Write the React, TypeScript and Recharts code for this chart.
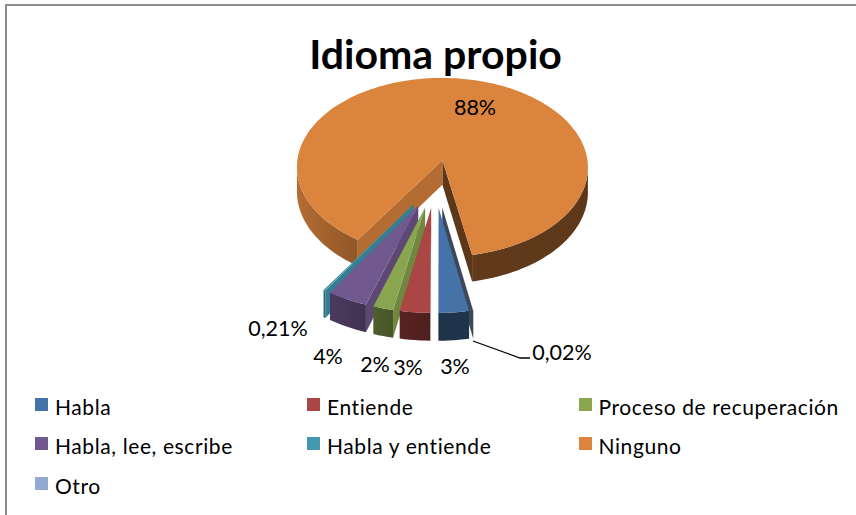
import { PieChart, Pie, Legend } from 'recharts';

const categories = [
  'Habla',
  'Entiende',
  'Proceso de recuperación',
  'Habla, lee, escribe',
  'Habla y entiende',
  'Ninguno',
  'Otro',
];
const values = [3, 3, 2, 4, 0.21, 88, 0.02];
const colors = ['#4572A7', '#AA4643', '#89A54E', '#71588F', '#4198AF', '#DB843D', '#93A9CF'];

// painter's order, walking counter-clockwise: far slices first, Habla last
const drawOrder = [6, 5, 4, 3, 2, 1, 0];
const pieData = drawOrder.map((i) => ({
  name: categories[i],
  value: values[i],
  fill: colors[i],
}));

const labelPos: Record<string, [number, number]> = {
  Habla: [455, 366],
  Entiende: [408, 367],
  'Proceso de recuperación': [375, 364],
  'Habla, lee, escribe': [328, 356],
  'Habla y entiende': [278, 328],
  Ninguno: [475, 107],
  Otro: [562, 352],
};

const EXPLODE = 0.26;
const PERSPECTIVE = 0.08;
const TILT = 0.625;
const DEPTH = 25;

function shade(hex: string, f: number) {
  const n = parseInt(hex.slice(1), 16);
  const c = [(n >> 16) & 255, (n >> 8) & 255, n & 255].map((v) => Math.round(v * f));
  return `rgb(${c.join(',')})`;
}

function rimShade(nx: number) {
  return nx < 0 ? 0.45 - nx * 0.38 : 0.45 - nx * 0.03;
}

function Slice3D(props: any) {
  const { cx, cy, outerRadius: R, fill, name } = props;
  // the pie is walked counter-clockwise, the faces are built clockwise
  const startAngle = props.endAngle;
  const endAngle = props.startAngle;
  const rad = Math.PI / 180;
  const mid = ((startAngle + endAngle) / 2) * rad;
  const ou = EXPLODE * Math.cos(mid);
  const ov = -EXPLODE * Math.sin(mid);

  const project = (u: number, v: number, z: number): [number, number] => {
    const s = 1 / (1 - PERSPECTIVE * (v + ov));
    return [cx + R * (u + ou) * s, cy + R * TILT * (v + ov) * s + DEPTH * z * s];
  };
  const at = (deg: number, z: number) =>
    project(Math.cos(deg * rad), -Math.sin(deg * rad), z);

  const span = Math.abs(endAngle - startAngle);
  const steps = Math.max(2, Math.ceil(span / 2));
  const angles = Array.from(
    { length: steps + 1 },
    (_, i) => startAngle + ((endAngle - startAngle) * i) / steps
  );

  const poly = (pts: [number, number][]) => pts.map((p) => p.join(',')).join(' ');
  const area = (p: [number, number][]) =>
    p.reduce((sum, a, i) => {
      const b = p[(i + 1) % p.length];
      return sum + a[0] * b[1] - b[0] * a[1];
    }, 0);

  const apexTop = project(0, 0, 0);
  const apexBottom = project(0, 0, 1);
  // contiguous visible stretches of the outer wall, one polygon each so no seams show
  const runs: number[][] = [];
  const stops: { x: number; color: string }[] = [];

  for (let i = 0; i < steps; i++) {
    const quad: [number, number][] = [
      at(angles[i], 0),
      at(angles[i + 1], 0),
      at(angles[i + 1], 1),
      at(angles[i], 1),
    ];
    if (area(quad) < 0) {
      const nx = Math.cos(((angles[i] + angles[i + 1]) / 2) * rad);
      const run = runs[runs.length - 1];
      if (run && run[run.length - 1] === i) run.push(i + 1);
      else runs.push([i, i + 1]);
      stops.push({ x: (quad[0][0] + quad[1][0]) / 2, color: shade(fill, rimShade(nx)) });
    }
  }
  stops.sort((a, b) => a.x - b.x);
  const minX = stops.length ? stops[0].x : 0;
  const maxX = stops.length ? stops[stops.length - 1].x : 1;
  const gradId = `rim-${categories.indexOf(name)}`;
  const rimPaint = stops.length > 1 ? `url(#${gradId})` : stops[0]?.color;

  const startFace: [number, number][] = [apexTop, at(startAngle, 0), at(startAngle, 1), apexBottom];
  const endFace: [number, number][] = [at(endAngle, 0), apexTop, apexBottom, at(endAngle, 1)];
  const top: [number, number][] = [apexTop, ...angles.map((a) => at(a, 0))];

  return (
    <g>
      <defs>
        <linearGradient id={gradId} gradientUnits="userSpaceOnUse" x1={minX} x2={maxX + 0.01} y1={0} y2={0}>
          {stops.map((s, i) => (
            <stop
              key={i}
              offset={(s.x - minX) / Math.max(maxX - minX, 0.01)}
              stopColor={s.color}
            />
          ))}
        </linearGradient>
      </defs>
      {runs.map((run, i) => (
        <polygon
          key={i}
          points={poly([
            ...run.map((k) => at(angles[k], 0)),
            ...[...run].reverse().map((k) => at(angles[k], 1)),
          ])}
          fill={rimPaint}
        />
      ))}
      {area(endFace) < 0 && <polygon points={poly(endFace)} fill={shade(fill, 0.42)} />}
      {area(startFace) < 0 && <polygon points={poly(startFace)} fill={shade(fill, 0.82)} />}
      <polygon points={poly(top)} fill={fill} />
    </g>
  );
}

function sliceLabel(props: any) {
  const { name, value } = props;
  const [x, y] = labelPos[name];
  const text = `${String(value).replace('.', ',')}%`;
  return (
    <g key={name}>
      {name === 'Otro' && (
        <polyline points="473,341 520,358 530,358" fill="none" stroke="#000" strokeWidth={1.3} />
      )}
      <text
        x={x}
        y={y}
        textAnchor="middle"
        dominantBaseline="central"
        fontFamily="Lato"
        fontSize={21.5}
        fill="#000"
      >
        {text}
      </text>
    </g>
  );
}

function LegendBox() {
  return (
    <div style={{ position: 'relative', width: 856, height: 120 }}>
      {categories.map((name, i) => (
        <div
          key={name}
          style={{
            position: 'absolute',
            left: [35, 307, 578.5][i % 3],
            top: Math.floor(i / 3) * 39.5,
            display: 'flex',
            alignItems: 'center',
            height: 28,
            fontFamily: 'Lato',
            fontSize: 21,
            letterSpacing: 0.6,
            color: '#000',
            whiteSpace: 'nowrap',
          }}
        >
          <span
            style={{ width: 13, height: 13, background: colors[i], marginRight: 7, marginTop: -4 }}
          />
          {name}
        </div>
      ))}
    </div>
  );
}

export default function App() {
  return (
    <div style={{ position: 'relative', width: 856, height: 515, background: '#fff' }}>
      <style>{'body{margin:0}'}</style>
      <div
        style={{
          position: 'absolute',
          left: 5,
          top: 4,
          right: 0,
          bottom: 0,
          borderTop: '2px solid #8c8c8c',
          borderLeft: '2px solid #8c8c8c',
        }}
      />
      <div style={{ position: 'absolute', left: 0, top: 0 }}>
        <PieChart width={856} height={515} margin={{ top: 0, right: 0, bottom: 0, left: 0 }}>
          <text
            x={435.5}
            y={53}
            textAnchor="middle"
            dominantBaseline="central"
            fontFamily="Lato"
            fontWeight={700}
            fontSize={41}
            fill="#000"
          >
            Idioma propio
          </text>
          <Pie
            data={pieData}
            dataKey="value"
            nameKey="name"
            cx={435}
            cy={183.4}
            outerRadius={148}
            startAngle={-79.4}
            endAngle={280.6}
            stroke="none"
            shape={Slice3D}
            label={sliceLabel}
            labelLine={false}
            isAnimationActive={false}
          />
          <Legend
            content={LegendBox}
            layout="horizontal"
            wrapperStyle={{ left: 0, top: 392, width: 856 }}
          />
        </PieChart>
      </div>
    </div>
  );
}
